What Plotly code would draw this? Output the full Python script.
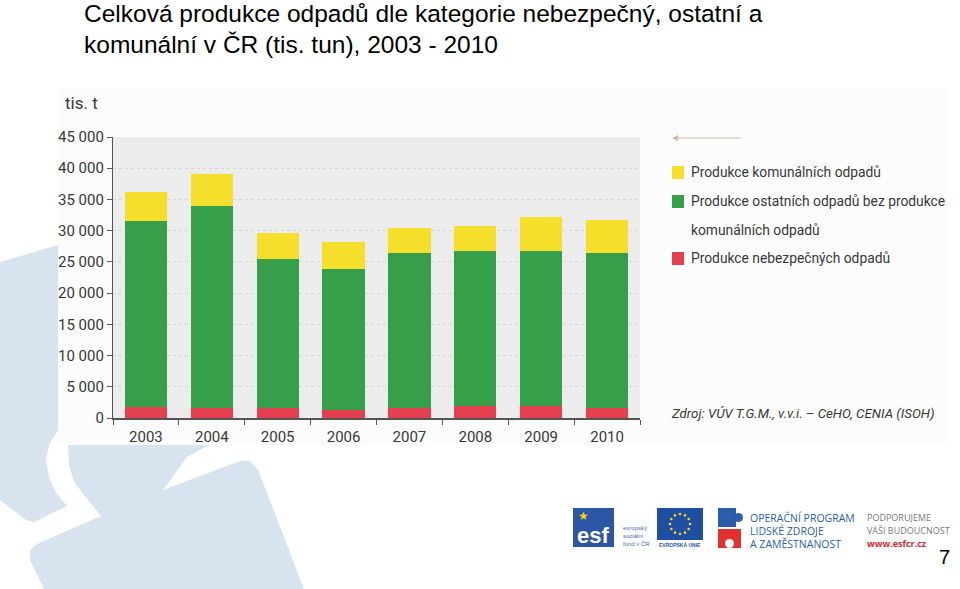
import math
import plotly.graph_objects as go

# ---------------- data ----------------
years = ["2003", "2004", "2005", "2006", "2007", "2008", "2009", "2010"]
hazardous = [1800, 1650, 1650, 1300, 1550, 1900, 1900, 1650]          # Produkce nebezpečných odpadů
other = [29750, 32300, 23800, 22550, 24850, 24900, 24900, 24750]       # ostatní bez komunálních
municipal = [4700, 5100, 4250, 4300, 4000, 3950, 5350, 5350]           # Produkce komunálních odpadů

y_tickvals = [0, 5000, 10000, 15000, 20000, 25000, 30000, 35000, 40000, 45000]
y_ticktext = ["0", "5 000", "10 000", "15 000", "20 000", "25 000", "30 000", "35 000", "40 000", "45 000"]

legend_labels = ["Produkce komunálních odpadů",
                 "Produkce ostatních odpadů bez produkce<br>komunálních odpadů",
                 "Produkce nebezpečných odpadů"]

title_lines = ["Celková produkce odpadů dle kategorie nebezpečný, ostatní a",
               "komunální v ČR (tis. tun), 2003 - 2010"]
source_text = "Zdroj: VÚV T.G.M., v.v.i. – CeHO, CENIA (ISOH)"

# ---------------- styling ----------------
W, H = 960, 589
L, R, T, B = 113, 640, 137, 418          # plot area in pixels
C_YEL, C_GRN, C_RED = "#f5df2b", "#35a049", "#e4404f"
NARROW = "Roboto, Liberation Sans, sans-serif"
ARIAL = "Liberation Sans, Arial, sans-serif"
DECO = "#d7e4ef"
TXT = "#383838"


def px(x):
    return (x - L) / (R - L)


def py(y):
    return (B - y) / (B - T)


def path(points):
    s = "M " + " L ".join(f"{px(x):.5f},{py(y):.5f}" for x, y in points) + " Z"
    return s


fig = go.Figure()
fig.add_trace(go.Bar(x=years, y=hazardous, name="Produkce nebezpečných odpadů",
                     marker=dict(color=C_RED, line=dict(width=0)), showlegend=False))
fig.add_trace(go.Bar(x=years, y=other, name="Produkce ostatních odpadů bez produkce komunálních odpadů",
                     marker=dict(color=C_GRN, line=dict(width=0)), showlegend=False))
fig.add_trace(go.Bar(x=years, y=municipal, name="Produkce komunálních odpadů",
                     marker=dict(color=C_YEL, line=dict(width=0)), showlegend=False))

shapes = []
# decorative light-blue background shapes of the slide
shapes.append(dict(type="path", xref="paper", yref="paper", layer="below", line=dict(width=0),
                   fillcolor=DECO,
                   path=path([(0, 262), (58, 245), (58, 430), (50, 443), (46, 458), (49, 478), (56, 493),
                              (67, 506), (34, 522), (26, 520), (0, 500)])))
shapes.append(dict(type="path", xref="paper", yref="paper", layer="below", line=dict(width=0),
                   fillcolor=DECO,
                   path=path([(68, 443), (213, 443), (187, 457), (163, 490), (240, 461), (250, 461),
                              (258, 470), (304, 589), (44, 589), (30, 560), (30, 550), (37, 544),
                              (101, 516), (88, 500), (74, 482), (69, 465)])))
# the chart picture's white background
shapes.append(dict(type="rect", xref="paper", yref="paper", layer="below", line=dict(width=0),
                   fillcolor="#fcfcfc", x0=px(58), x1=px(946), y0=py(445), y1=py(88)))
# plot area background
shapes.append(dict(type="rect", xref="x domain", yref="y domain", layer="below", line=dict(width=0),
                   fillcolor="#ececec", x0=0, x1=1, y0=0, y1=1))

# manual legend squares
leg_rows = [172, 201, 258]
leg_cols = [C_YEL, C_GRN, C_RED]
for yy, cc in zip(leg_rows, leg_cols):
    shapes.append(dict(type="rect", xref="paper", yref="paper", line=dict(width=0), fillcolor=cc,
                       x0=px(672), x1=px(684), y0=py(yy + 7), y1=py(yy - 6)))

# ---- logos (simplified) ----
shapes.append(dict(type="rect", xref="paper", yref="paper", line=dict(width=0), fillcolor="#2a56a4",
                   x0=px(573), x1=px(614), y0=py(547), y1=py(508)))
shapes.append(dict(type="rect", xref="paper", yref="paper", line=dict(width=0), fillcolor="#1f4fa3",
                   x0=px(657), x1=px(703), y0=py(540), y1=py(508)))
for k in range(12):
    a = 2 * math.pi * k / 12
    cx, cy = 680 + 10 * math.cos(a), 524 + 10 * math.sin(a)
    shapes.append(dict(type="circle", xref="paper", yref="paper", line=dict(width=0), fillcolor="#f7d21b",
                       x0=px(cx - 1.3), x1=px(cx + 1.3), y0=py(cy + 1.3), y1=py(cy - 1.3)))
# puzzle icon
shapes.append(dict(type="rect", xref="paper", yref="paper", line=dict(width=0), fillcolor="#2a5eaa",
                   x0=px(718), x1=px(736), y0=py(527), y1=py(508)))
shapes.append(dict(type="circle", xref="paper", yref="paper", line=dict(width=0), fillcolor="#2a5eaa",
                   x0=px(734), x1=px(743), y0=py(522), y1=py(513)))
shapes.append(dict(type="rect", xref="paper", yref="paper", line=dict(width=0), fillcolor="#e0312f",
                   x0=px(718), x1=px(741), y0=py(548), y1=py(529)))
shapes.append(dict(type="circle", xref="paper", yref="paper", line=dict(width=0), fillcolor="#ffffff",
                   x0=px(725), x1=px(734), y0=py(548), y1=py(539)))

annotations = []
for i, line in enumerate(title_lines):
    annotations.append(dict(text=line, xref="paper", yref="paper", x=px(82), y=py(13 + 31 * i),
                            xanchor="left", yanchor="middle", showarrow=False,
                            font=dict(family=ARIAL, size=24.5, color="#000000")))
annotations.append(dict(text="tis. t", xref="paper", yref="paper", x=px(63), y=py(103),
                        xanchor="left", yanchor="middle", showarrow=False,
                        font=dict(family=NARROW, size=17, color=TXT)))
leg_text_y = [172, 201, 258]
for lbl, yy in zip(legend_labels, leg_text_y):
    parts = lbl.split("<br>")
    for j, p in enumerate(parts):
        annotations.append(dict(text=p, xref="paper", yref="paper", x=px(689), y=py(yy + 28.5 * j),
                                xanchor="left", yanchor="middle", showarrow=False,
                                font=dict(family=NARROW, size=13.8, color=TXT)))
annotations.append(dict(text=source_text, xref="paper", yref="paper", x=px(669), y=py(413),
                        xanchor="left", yanchor="middle", showarrow=False,
                        font=dict(family=NARROW, size=13.3, color=TXT, style="italic")))
# faint arrow above the legend
annotations.append(dict(text="", xref="paper", yref="paper", x=px(672), y=py(138),
                        ax=70, ay=0, showarrow=True, arrowhead=2, arrowsize=1.2, arrowwidth=1,
                        arrowcolor="#cdb9ab"))
# logo texts
annotations.append(dict(text="<b>esf</b>", xref="paper", yref="paper", x=px(593), y=py(535),
                        xanchor="center", yanchor="middle", showarrow=False,
                        font=dict(family=ARIAL, size=22, color="#ffffff")))
annotations.append(dict(text="★", xref="paper", yref="paper", x=px(583), y=py(516),
                        xanchor="center", yanchor="middle", showarrow=False,
                        font=dict(family="DejaVu Sans", size=12, color="#f5d31c")))
annotations.append(dict(text="evropský<br>sociální<br>fond v ČR", xref="paper", yref="paper",
                        x=px(621), y=py(536), xanchor="left", yanchor="middle", showarrow=False, align="left",
                        font=dict(family=ARIAL, size=6, color="#4a6aa8")))
annotations.append(dict(text="<b>EVROPSKÁ UNIE</b>", xref="paper", yref="paper", x=px(680), y=py(545),
                        xanchor="center", yanchor="middle", showarrow=False,
                        font=dict(family=ARIAL, size=5, color="#2a56a4")))
for j, t in enumerate(["OPERAČNÍ PROGRAM", "LIDSKÉ ZDROJE", "A ZAMĚSTNANOST"]):
    annotations.append(dict(text=t, xref="paper", yref="paper", x=px(748), y=py(518 + 13 * j),
                            xanchor="left", yanchor="middle", showarrow=False,
                            font=dict(family="Open Sans, " + ARIAL, size=10.5, color="#2a5eaa")))
for j, t in enumerate(["PODPORUJEME", "VAŠI BUDOUCNOST"]):
    annotations.append(dict(text=t, xref="paper", yref="paper", x=px(865), y=py(517 + 13 * j),
                            xanchor="left", yanchor="middle", showarrow=False,
                            font=dict(family="Open Sans, " + ARIAL, size=9, color="#7a7a7a")))
annotations.append(dict(text="<b>www.esfcr.cz</b>", xref="paper", yref="paper", x=px(865), y=py(543),
                        xanchor="left", yanchor="middle", showarrow=False,
                        font=dict(family="Open Sans, " + ARIAL, size=9, color="#d9272e")))
annotations.append(dict(text="7", xref="paper", yref="paper", x=px(952), y=py(557),
                        xanchor="right", yanchor="middle", showarrow=False,
                        font=dict(family=ARIAL, size=20, color="#000000")))

fig.update_layout(
    width=W, height=H,
    margin=dict(l=L, r=W - R, t=T, b=H - B, pad=0),
    paper_bgcolor="#ffffff",
    plot_bgcolor="rgba(0,0,0,0)",
    barmode="stack",
    bargap=0.36,
    showlegend=False,
    hovermode=False,
    shapes=shapes,
    annotations=annotations,
    xaxis=dict(type="category", showline=True, linecolor="#555555", linewidth=1.5,
               ticks="outside", tickson="boundaries", ticklen=5, tickcolor="#555555",
               tickfont=dict(family=NARROW, size=15, color=TXT), showgrid=False,
               ticklabelstandoff=4),
    yaxis=dict(range=[0, 45000], showline=True, linecolor="#555555", linewidth=1.2,
               ticks="outside", ticklen=5, tickcolor="#555555",
               tickvals=y_tickvals, ticktext=y_ticktext,
               tickfont=dict(family=NARROW, size=15, color=TXT),
               showgrid=True, gridcolor="#d4d4d4", griddash="dot", gridwidth=1,
               zeroline=False),
)

fig.write_html("out.html", config={"displayModeBar": False},
               post_script="document.body.style.margin='0px';")
